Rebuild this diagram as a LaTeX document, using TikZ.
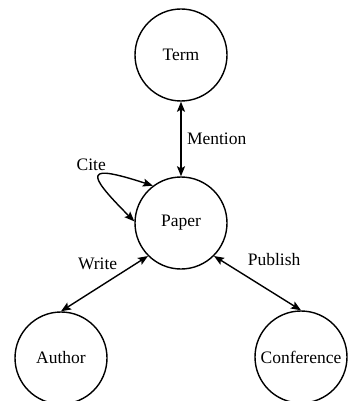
\documentclass[tikz,border=0pt]{standalone}
\usepackage{fontspec}
\setmainfont{Liberation Serif}
\usetikzlibrary{positioning, arrows.meta}

\begin{document}
\begin{tikzpicture}[<->, >={Stealth[length=10pt, width=8pt, inset=2pt]}, x=1pt, y=-1pt,
	line width=1.4pt, node distance=168pt, on grid,
	entity/.style={circle, draw, minimum size=92pt, inner sep=0pt, font=\fontsize{17.5}{20}\selectfont},
	rel/.style={font=\fontsize{17.5}{20}\selectfont}]

		\useasboundingbox (0,0) rectangle (348,401);

		\node[entity] (term) at (181,55) {Term};
		\node[entity] (paper) [below=of term] {Paper};
		\node[entity] (author) [below left=135pt and 120pt of paper] {Author};
		\node[entity] (conf) [below right=134pt and 120pt of paper] {Conference};

			\path
				(term) edge node[rel, right=2pt]{Mention} (paper)
				(paper.127) edge [out=162, in=135, looseness=4.5] node[rel, pos=0.4, above left, xshift=7pt]{Cite} (paper.178)
				(paper.south west) edge node[rel, pos=0.25, above left, xshift=-5pt, yshift=-4pt]{Write} (author.north)
				(paper.south east) edge node[rel, pos=0.25, above right, xshift=8pt]{Publish} (conf.north);

\end{tikzpicture}
\end{document}
